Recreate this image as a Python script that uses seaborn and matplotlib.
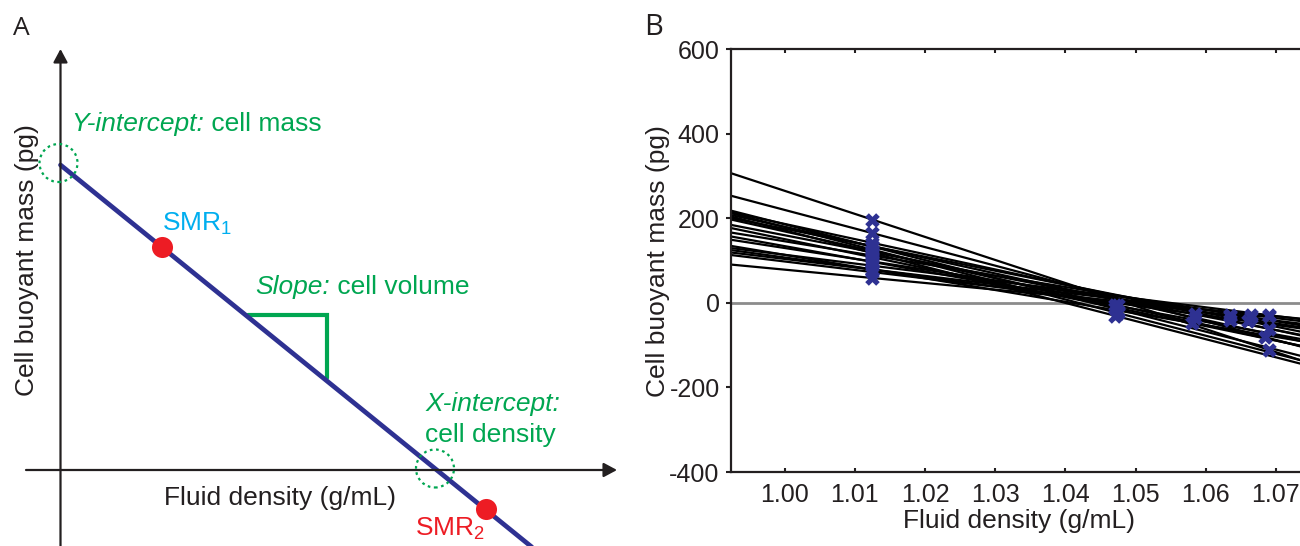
import matplotlib
matplotlib.use("Agg")
import matplotlib.pyplot as plt
import seaborn as sns
from matplotlib.patches import Circle

# ---- colours ----
GREEN = "#00a651"
CYAN = "#00aeef"
RED = "#ed1c24"
NAVY = "#2e3192"
DARK = "#231f20"

# ---- panel A: schematic, arbitrary units ----
fit_x = [0.0, 4.73]
fit_y = [3.05, -0.784]
smr_x = [1.015, 4.255]
smr_y = [2.23, -0.39]
slope_x = [1.875, 2.665, 2.665]
slope_y = [1.55, 1.55, 0.92]
circle_x = [-0.02, 3.745]
circle_y = [3.07, 0.015]

# ---- panel B: each cell weighed in two fluids ----
fluid1 = 1.0125
mass1 = [197, 165, 133, 142, 126, 134, 118, 134, 123, 120,
         108, 112, 97, 98, 79, 88, 79, 79, 73, 59]
fluid2 = [1.069, 1.0685, 1.047, 1.0635, 1.0475, 1.0585, 1.047, 1.066, 1.0475, 1.069,
          1.058, 1.0665, 1.047, 1.0635, 1.0475, 1.069, 1.0585, 1.0665, 1.0635, 1.069]
mass2 = [-111, -81, -13, -41, -24, -35, -30, -43, -6, -61,
         -48, -34, -6, -32, -18, -29, -26, -29, -29, -30]
x_ticks = [1.00, 1.01, 1.02, 1.03, 1.04, 1.05, 1.06, 1.07]
y_ticks = [-400, -200, 0, 200, 400, 600]

sns.set_theme(style="white")
plt.rcParams["font.family"] = ["Liberation Sans", "DejaVu Sans"]
plt.rcParams["mathtext.default"] = "regular"
plt.rcParams["axes.unicode_minus"] = False

FS = 19
TICK_FS = 18
fig = plt.figure(figsize=(13, 5.46), dpi=100)

# ==========================
# Panel A
# ==========================
axA = fig.add_axes([0, 0, 620 / 1300, 1])
axA.set_xlim(-0.605, 5.595)
axA.set_ylim(-0.76, 4.70)
axA.axis("off")

arrow = dict(arrowstyle="-|>,head_length=0.8,head_width=0.43", lw=1.6,
             color=DARK, shrinkA=0, shrinkB=0, mutation_scale=10)
axA.annotate("", xy=(0, 4.21), xytext=(0, -0.80), arrowprops=arrow)
axA.annotate("", xy=(5.565, 0), xytext=(-0.345, 0), arrowprops=arrow)

sns.lineplot(x=fit_x, y=fit_y, ax=axA, color=NAVY, lw=3.4, zorder=2)
sns.scatterplot(x=smr_x, y=smr_y, ax=axA, color=RED, s=230, linewidth=0, zorder=3)
axA.plot(slope_x, slope_y, color=GREEN, lw=3, solid_joinstyle="miter", zorder=1)
for cx, cy in zip(circle_x, circle_y):
    axA.add_patch(Circle((cx, cy), 0.19, fill=False, ec=GREEN, lw=1.6,
                         ls=(0, (1.2, 1.6)), zorder=4))

t = axA.text(0.105, 3.388, "Y-intercept:", color=GREEN, style="italic",
             fontsize=FS, va="baseline")
axA.annotate(" cell mass", xy=(1, 0), xycoords=t, color=GREEN,
             fontsize=FS, va="bottom")
t = axA.text(1.945, 1.761, "Slope:", color=GREEN, style="italic",
             fontsize=FS, va="baseline")
axA.annotate(" cell volume", xy=(1, 0), xycoords=t, color=GREEN,
             fontsize=FS, va="bottom")
axA.text(3.645, 0.595, "X-intercept:", color=GREEN, style="italic",
         fontsize=FS, va="baseline")
axA.text(3.645, 0.28, "cell density", color=GREEN, fontsize=FS, va="baseline")
axA.text(1.015, 2.388, "SMR$_1$", color=CYAN, fontsize=FS, va="baseline")
axA.text(3.545, -0.662, "SMR$_2$", color=RED, fontsize=FS, va="baseline")
axA.text(1.035, -0.345, "Fluid density (g/mL)", color=DARK, fontsize=FS,
         va="baseline")
axA.text(-0.269, 2.095, "Cell buoyant mass (pg)", color=DARK, fontsize=FS,
         rotation=90, ha="center", va="baseline", rotation_mode="anchor")

# ==========================
# Panel B
# ==========================
axB = fig.add_axes([730.5 / 1300, (546 - 472) / 546, 580.5 / 1300, 422.7 / 546])
axB.set_xlim(0.99227, 1.075)
axB.set_ylim(-400, 600)
axB.axhline(0, color="#8c8c8c", lw=2, zorder=1)

for m1, r2, m2 in zip(mass1, fluid2, mass2):
    sns.regplot(x=[fluid1, r2], y=[m1, m2], ax=axB, ci=None, truncate=False,
                marker="X",
                scatter_kws=dict(s=110, color=NAVY, alpha=1, linewidths=0, zorder=3),
                line_kws=dict(color="black", lw=1.6, zorder=2))

axB.set_xlim(0.99227, 1.075)
axB.set_ylim(-400, 600)
axB.set_xticks(x_ticks)
axB.set_xticklabels([f"{v:.2f}" for v in x_ticks])
axB.set_yticks(y_ticks)
axB.set_yticklabels([str(v) for v in y_ticks])
axB.tick_params(axis="x", direction="in", top=True, bottom=True, length=3,
                width=1.5, pad=7.6, labelsize=TICK_FS, colors=DARK)
axB.tick_params(axis="y", direction="out", left=True, right=False, length=3.3,
                width=1.5, pad=4.5, labelsize=TICK_FS, colors=DARK)
for side in ["top", "bottom", "left", "right"]:
    axB.spines[side].set_linewidth(1.6)
    axB.spines[side].set_color(DARK)

axB.set_xlabel("Fluid density (g/mL)", fontsize=FS, color=DARK)
axB.set_ylabel("Cell buoyant mass (pg)", fontsize=FS, color=DARK)
axB.xaxis.set_label_coords(0.497, -0.087)
axB.yaxis.set_label_coords(-0.105, 0.5)

fig.text(12.7 / 1300, 1 - 35 / 546, "A", fontsize=19, family=["Open Sans", "DejaVu Sans"],
         color=DARK, va="baseline")
fig.text(644 / 1300, 1 - 35 / 546, "B", fontsize=21, family=["Open Sans", "DejaVu Sans"],
         color=DARK, va="baseline")

fig.savefig("out.png", dpi=100, facecolor="white")
